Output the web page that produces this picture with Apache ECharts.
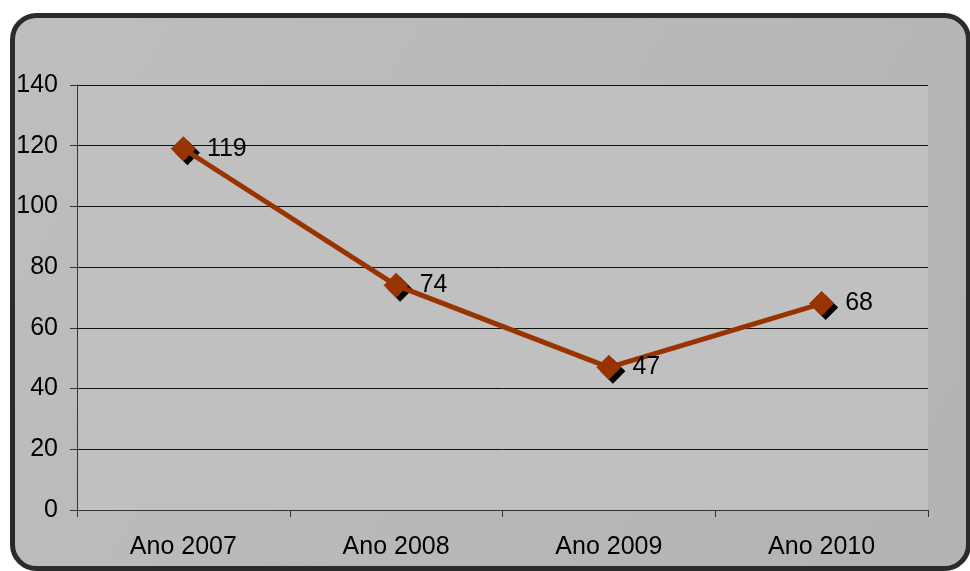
<!DOCTYPE html>
<html><head><meta charset="utf-8">
<script src="https://cdn.jsdelivr.net/npm/echarts@6/dist/echarts.min.js"></script>
<style>html,body{margin:0;padding:0;background:#fff;}#c{width:970px;height:571px;}</style>
</head><body><div id="c"></div>
<script>
var categories = ['Ano 2007', 'Ano 2008', 'Ano 2009', 'Ano 2010'];
var values = [119, 74, 47, 68];
var yTicks = [0, 20, 40, 60, 80, 100, 120, 140];

var FONT = 'Liberation Sans, Arial, sans-serif';
var chart = echarts.init(document.getElementById('c'));
chart.setOption({
  animation: false,
  backgroundColor: '#ffffff',
  graphic: [{
    type: 'rect', z: -10, silent: true,
    shape: { x: 12.5, y: 15.5, width: 956, height: 553, r: 24 },
    style: {
      fill: new echarts.graphic.LinearGradient(0, 0, 1, 1, [
        { offset: 0, color: '#bebebe' }, { offset: 1, color: '#b3b3b3' }
      ]),
      stroke: '#2b2b2b', lineWidth: 5
    }
  }],
  grid: { left: 77, right: 42, top: 85, bottom: 61, show: true, backgroundColor: '#c0c0c0', borderWidth: 0 },
  xAxis: {
    type: 'category', data: categories, boundaryGap: true,
    axisLine: { lineStyle: { color: '#333', width: 1 } },
    axisTick: { show: true, length: 7, alignWithLabel: false, lineStyle: { color: '#333' } },
    axisLabel: { color: '#000', fontSize: 25, fontFamily: FONT, margin: 25 }
  },
  yAxis: {
    type: 'value', min: yTicks[0], max: yTicks[yTicks.length - 1], interval: 20,
    axisLine: { show: true, lineStyle: { color: '#333', width: 1 } },
    axisTick: { show: true, length: 7, lineStyle: { color: '#333' } },
    splitLine: { show: true, lineStyle: { color: '#111', width: 1 } },
    axisLabel: { color: '#000', fontSize: 25, fontFamily: FONT, margin: 19 }
  },
  series: [{
    type: 'line', data: values, z: 1,
    symbol: 'diamond', symbolSize: 25, symbolOffset: [4, 4],
    lineStyle: { opacity: 0 },
    itemStyle: { color: '#000' }
  }, {
    type: 'line', data: values, z: 3,
    symbol: 'diamond', symbolSize: 25,
    lineStyle: { color: '#993300', width: 5 },
    itemStyle: { color: '#993300' },
    label: { show: true, position: 'right', distance: 11, color: '#000', fontSize: 25, fontFamily: FONT }
  }]
});
</script></body></html>
